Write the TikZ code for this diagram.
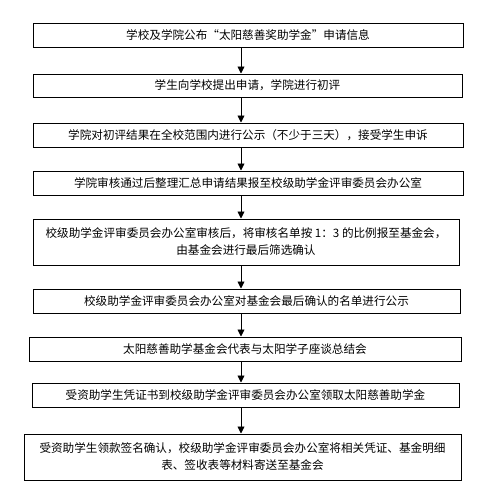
\documentclass[tikz,border=0pt]{standalone}
\usepackage{fontspec}
\newfontfamily\cjk{Noto Sans CJK SC}
\usetikzlibrary{arrows.meta}
\begin{document}
\begin{tikzpicture}[x=1pt,y=-1pt,
  stepbox/.style={draw=black,line width=1pt,inner sep=0pt,align=center,
    font=\cjk\fontsize{11.6}{17}\selectfont},
  flow/.style={draw=black,line width=0.9pt,-{Triangle[length=7pt,width=7pt]}}]
\useasboundingbox (0,0) rectangle (490,496);
\fill[white] (0,0) rectangle (490,496);
\node[stepbox,minimum width=430pt,minimum height=24pt] (b1) at (248,35) {学校及学院公布“太阳慈善奖助学金”申请信息};
\node[stepbox,minimum width=429pt,minimum height=23pt] (b2) at (247.5,85.5) {学生向学校提出申请，学院进行初评};
\node[stepbox,minimum width=430pt,minimum height=24pt] (b3) at (248,135) {学院对初评结果在全校范围内进行公示（不少于三天），接受学生申诉};
\node[stepbox,minimum width=430pt,minimum height=24pt] (b4) at (248,183) {学院审核通过后整理汇总申请结果报至校级助学金评审委员会办公室};
\node[stepbox,minimum width=426pt,minimum height=46pt] (b5) at (246,242) {校级助学金评审委员会办公室审核后，将审核名单按 1：3 的比例报至基金会，\\由基金会进行最后筛选确认};
\node[stepbox,minimum width=427pt,minimum height=24pt] (b6) at (246.5,301) {校级助学金评审委员会办公室对基金会最后确认的名单进行公示};
\node[stepbox,minimum width=432pt,minimum height=24pt] (b7) at (245,349) {太阳慈善助学基金会代表与太阳学子座谈总结会};
\node[stepbox,minimum width=427pt,minimum height=24pt] (b8) at (245.5,395) {受资助学生凭证书到校级助学金评审委员会办公室领取太阳慈善助学金};
\node[stepbox,minimum width=437pt,minimum height=46pt] (b9) at (242.5,457) {受资助学生领款签名确认，校级助学金评审委员会办公室将相关凭证、基金明细\\表、签收表等材料寄送至基金会};
\coordinate (ax) at (241,0);
\foreach \a/\b in {b1/b2,b2/b3,b3/b4,b4/b5,b5/b6,b6/b7,b7/b8,b8/b9}
  \draw[flow] (\a.south -| ax) -- (\b.north -| ax);
\end{tikzpicture}
\end{document}
